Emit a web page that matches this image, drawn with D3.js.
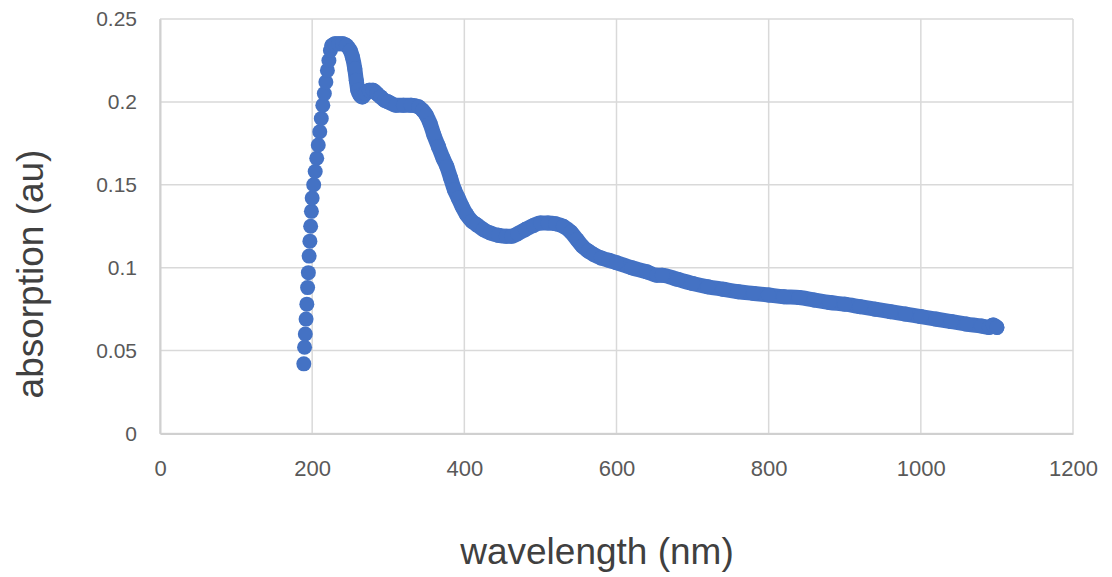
<!DOCTYPE html>
<html>
<head>
<meta charset="utf-8">
<script src="https://cdn.jsdelivr.net/npm/d3@7"></script>
<style>
  body { margin: 0; background: #ffffff; }
  #chart { width: 1112px; height: 577px; }
  .tick-label { font-family: "Liberation Sans", Arial, sans-serif; fill: #595959; }
  .axis-title { font-family: "Liberation Sans", Arial, sans-serif; fill: #404040; }
</style>
</head>
<body>
<div id="chart"></div>
<script>
// Spectrum (wavelength in nm, absorption in au)
const wavelengths = [
  189, 190, 191, 192, 193, 194, 195, 196, 197, 198, 199,
  200, 202, 204, 206, 208, 210, 212, 214, 216, 218, 220, 222, 224, 226,
  230, 235, 240, 245, 250, 253, 256, 258, 260, 263, 266, 270, 275, 280,
  285, 290, 295, 300, 310, 320, 330, 340, 345, 350, 355, 360, 366, 372,
  377, 382, 387, 392, 397, 403, 410, 416, 425, 434, 445, 455, 462, 470,
  480, 491, 500, 510, 520, 530, 540, 548, 555, 563, 570, 580, 590, 600,
  620, 640, 653, 660, 680, 700, 720, 740, 760, 780, 800, 820, 840, 860,
  880, 900, 920, 940, 960, 980, 1000, 1020, 1040, 1060, 1080, 1090, 1095, 1100
];
const absorption = [
  0.042, 0.052, 0.060, 0.069, 0.078, 0.088, 0.097, 0.107, 0.116, 0.125, 0.134,
  0.142, 0.150, 0.158, 0.166, 0.174, 0.182, 0.190, 0.198, 0.205, 0.212, 0.219, 0.225, 0.231, 0.234,
  0.235, 0.235, 0.235, 0.234, 0.231, 0.227, 0.220, 0.213, 0.207, 0.204, 0.203, 0.205, 0.207, 0.207,
  0.205, 0.203, 0.201, 0.200, 0.198, 0.198, 0.198, 0.197, 0.195, 0.192, 0.187, 0.180, 0.173, 0.166,
  0.161, 0.154, 0.147, 0.142, 0.137, 0.132, 0.128, 0.126, 0.123, 0.121, 0.1195, 0.119, 0.119, 0.1205,
  0.123, 0.1255, 0.127, 0.127, 0.1265, 0.125, 0.1215, 0.117, 0.113, 0.110, 0.108, 0.1058, 0.1045, 0.103,
  0.100, 0.0975, 0.0955, 0.0955, 0.093, 0.0905, 0.0885, 0.087, 0.0855, 0.0845, 0.0835, 0.0825, 0.082, 0.0805,
  0.079, 0.078, 0.0765, 0.075, 0.0735, 0.072, 0.0705, 0.069, 0.0675, 0.066, 0.0648, 0.064, 0.0655, 0.064
];

const xTicks = [0, 200, 400, 600, 800, 1000, 1200];
const yTicks = [0, 0.05, 0.1, 0.15, 0.2, 0.25];
const yTickLabels = ["0", "0.05", "0.1", "0.15", "0.2", "0.25"];

const xTitle = "wavelength (nm)";
const yTitle = "absorption (au)";

const width = 1112, height = 577;
const margin = { top: 19, right: 39, bottom: 143.5, left: 160 };
const markerColor = "#4472c4";
const gridColor = "#d9d9d9";

const svg = d3.select("#chart").append("svg")
  .attr("width", width)
  .attr("height", height);

svg.append("rect").attr("width", width).attr("height", height).attr("fill", "#ffffff");

const x = d3.scaleLinear().domain([0, 1200]).range([margin.left, width - margin.right]);
const y = d3.scaleLinear().domain([0, 0.25]).range([height - margin.bottom, margin.top]);

// Grid lines
const grid = svg.append("g").attr("class", "grid");
grid.selectAll(".hgrid").data(yTicks).enter().append("line")
  .attr("x1", x(0)).attr("x2", x(1200))
  .attr("y1", d => y(d)).attr("y2", d => y(d))
  .attr("stroke", gridColor).attr("stroke-width", 1.5);
grid.selectAll(".vgrid").data(xTicks).enter().append("line")
  .attr("x1", d => x(d)).attr("x2", d => x(d))
  .attr("y1", y(0)).attr("y2", y(0.25))
  .attr("stroke", gridColor).attr("stroke-width", 1.5);

// Axes (labels only, lines come from the grid)
const xAxis = svg.append("g")
  .attr("transform", `translate(0,${y(0)})`)
  .call(d3.axisBottom(x).tickValues(xTicks).tickSize(0).tickPadding(27).tickFormat(d3.format("d")));
xAxis.select(".domain").attr("stroke", "#d0d0d0").attr("stroke-width", 2);
xAxis.selectAll("text").attr("class", "tick-label").style("font-size", "22px").attr("fill", "#595959");

const yAxis = svg.append("g")
  .attr("transform", `translate(${x(0)},0)`)
  .call(d3.axisLeft(y).tickValues(yTicks).tickSize(0).tickPadding(23).tickFormat((d, i) => yTickLabels[i]));
yAxis.select(".domain").attr("stroke", "#d0d0d0").attr("stroke-width", 2);
yAxis.selectAll("text").attr("class", "tick-label").style("font-size", "21px").attr("fill", "#595959");

// Axis titles
svg.append("text")
  .attr("class", "axis-title")
  .attr("x", 597).attr("y", 564)
  .attr("text-anchor", "middle")
  .style("font-size", "37px")
  .text(xTitle);

svg.append("text")
  .attr("class", "axis-title")
  .attr("transform", "translate(43,274) rotate(-90)")
  .attr("text-anchor", "middle")
  .style("font-size", "37px")
  .text(yTitle);

// Series
const points = wavelengths.map((w, i) => ({ w: w, a: absorption[i] }));

// dense part of the scan reads as a solid band
const line = d3.line().x(d => x(d.w)).y(d => y(d.a)).curve(d3.curveMonotoneX);
svg.append("path")
  .datum(points.filter(p => p.w >= 226))
  .attr("d", line)
  .attr("fill", "none")
  .attr("stroke", markerColor)
  .attr("stroke-width", 15)
  .attr("stroke-linejoin", "round")
  .attr("stroke-linecap", "round");

svg.append("g").selectAll("circle").data(points).enter().append("circle")
  .attr("cx", d => x(d.w))
  .attr("cy", d => y(d.a))
  .attr("r", 7.5)
  .attr("fill", markerColor);
</script>
</body>
</html>
